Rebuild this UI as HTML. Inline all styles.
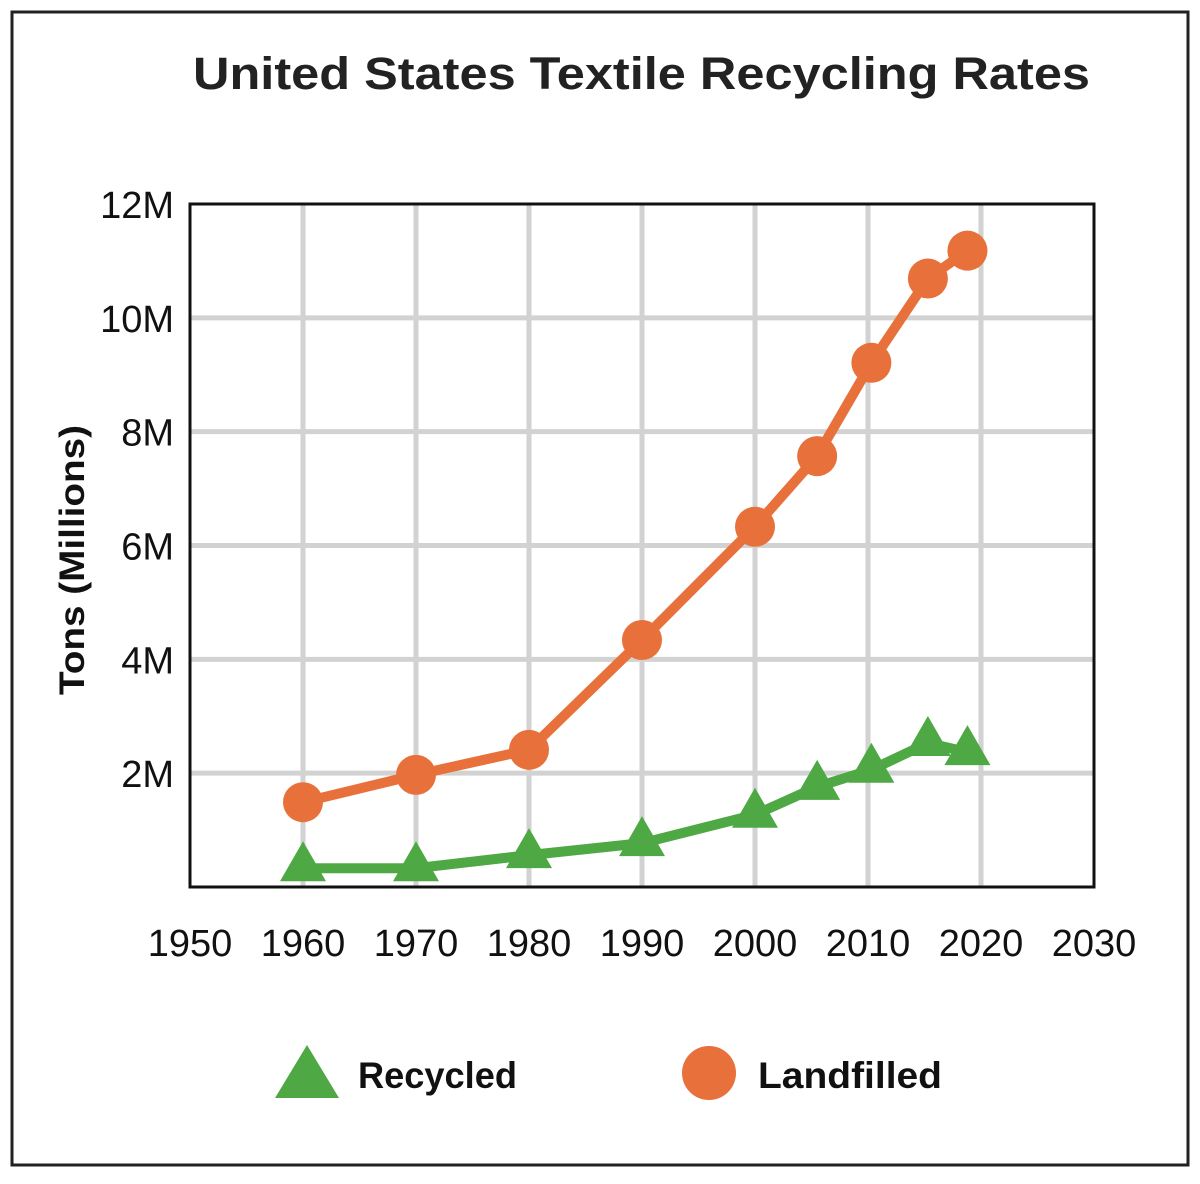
<!DOCTYPE html>
<html><head><meta charset="utf-8">
<style>
html,body{margin:0;padding:0;background:#fff;}
svg{display:block;}
</style></head>
<body>
<svg id="chart" width="1200" height="1184" xmlns="http://www.w3.org/2000/svg">
<rect x="12" y="12" width="1176" height="1153" fill="#fff" stroke="#222" stroke-width="3"/>
<text x="193" y="89" textLength="897" lengthAdjust="spacingAndGlyphs" font-family="'Liberation Sans',sans-serif" font-weight="bold" font-size="45" fill="#222">United States Textile Recycling Rates</text>
<g id="grid"></g>
<g id="series"></g>
<rect x="190" y="204" width="904" height="683" fill="none" stroke="#111" stroke-width="3"/>
<g id="ticks"></g>
<text transform="translate(84,560) rotate(-90)" text-anchor="middle" textLength="270" lengthAdjust="spacingAndGlyphs" font-family="'Liberation Sans',sans-serif" font-weight="bold" font-size="35" fill="#111">Tons (Millions)</text>
<g>
<polygon points="307,1045 339,1098 275,1098" fill="#4ea843"/>
<text x="358" y="1088" textLength="159" lengthAdjust="spacingAndGlyphs" font-family="'Liberation Sans',sans-serif" font-weight="bold" font-size="37" fill="#111">Recycled</text>
<circle cx="709" cy="1073" r="27" fill="#e8703a"/>
<text x="758" y="1088" textLength="184" lengthAdjust="spacingAndGlyphs" font-family="'Liberation Sans',sans-serif" font-weight="bold" font-size="37" fill="#111">Landfilled</text>
</g>
</svg>
<script>
const years = [1960, 1970, 1980, 1990, 2000, 2005.5, 2010.3, 2015.3, 2018.8];
const landfilled = [1.49, 1.97, 2.41, 4.34, 6.33, 7.57, 9.21, 10.69, 11.18];
const recycled = [0.33, 0.33, 0.56, 0.77, 1.27, 1.76, 2.06, 2.53, 2.37];
const xTicks = [1950, 1960, 1970, 1980, 1990, 2000, 2010, 2020, 2030];
const yTicks = [2, 4, 6, 8, 10, 12];
const yTickLabels = ["2M", "4M", "6M", "8M", "10M", "12M"];

const NS = "http://www.w3.org/2000/svg";
const X0 = 190, X1 = 1094, Y0 = 887, Y1 = 204;
function xs(v){ return X0 + (v - 1950) / 80 * (X1 - X0); }
function ys(v){ return Y0 - v / 12 * (Y0 - Y1); }
function mk(tag, attrs, parent){
  const e = document.createElementNS(NS, tag);
  for (const k in attrs) e.setAttribute(k, attrs[k]);
  parent.appendChild(e); return e;
}
const grid = document.getElementById('grid');
const ticks = document.getElementById('ticks');
const series = document.getElementById('series');
const font = "'Liberation Sans Narrow','Liberation Sans',sans-serif";

xTicks.forEach(t => {
  if (t > 1950 && t < 2030) {
    const l = mk('line', {x1: xs(t), x2: xs(t), y1: Y1, y2: Y0, stroke: '#d2d2d2', 'stroke-width': 5}, grid);
    
    
  }
  const tx = mk('text', {x: xs(t), y: 956, 'text-anchor': 'middle', 'font-family': font, 'font-size': 38, fill: '#111'}, ticks);
  tx.textContent = t;
  
  
});
yTicks.forEach((t, i) => {
  if (t < 12) {
    const l = mk('line', {x1: X0, x2: X1, y1: ys(t), y2: ys(t), stroke: '#d2d2d2', 'stroke-width': 5}, grid);
    
    
  }
  const tx = mk('text', {x: 174, y: ys(t) + 14, 'text-anchor': 'end', 'font-family': font, 'font-size': 38, fill: '#111'}, ticks);
  tx.textContent = yTickLabels[i];
  
  
});

function pts(arr){ return years.map((y, i) => xs(y) + ',' + ys(arr[i])).join(' '); }
const rl = mk('polyline', {points: pts(recycled), fill: 'none', stroke: '#4ea843', 'stroke-width': 10, 'stroke-linejoin': 'round'}, series);


const ll = mk('polyline', {points: pts(landfilled), fill: 'none', stroke: '#e8703a', 'stroke-width': 10, 'stroke-linejoin': 'round'}, series);



years.forEach((y, i) => {
  const cx = xs(y), cy = ys(recycled[i]);
  const tri = mk('polygon', {points: `${cx},${cy-27} ${cx+23},${cy+13} ${cx-23},${cy+13}`, fill: '#4ea843'}, series);
  
  
  const c = mk('circle', {cx: xs(y), cy: ys(landfilled[i]), r: 20, fill: '#e8703a'}, series);
  
  
});
</script>
</body></html>
